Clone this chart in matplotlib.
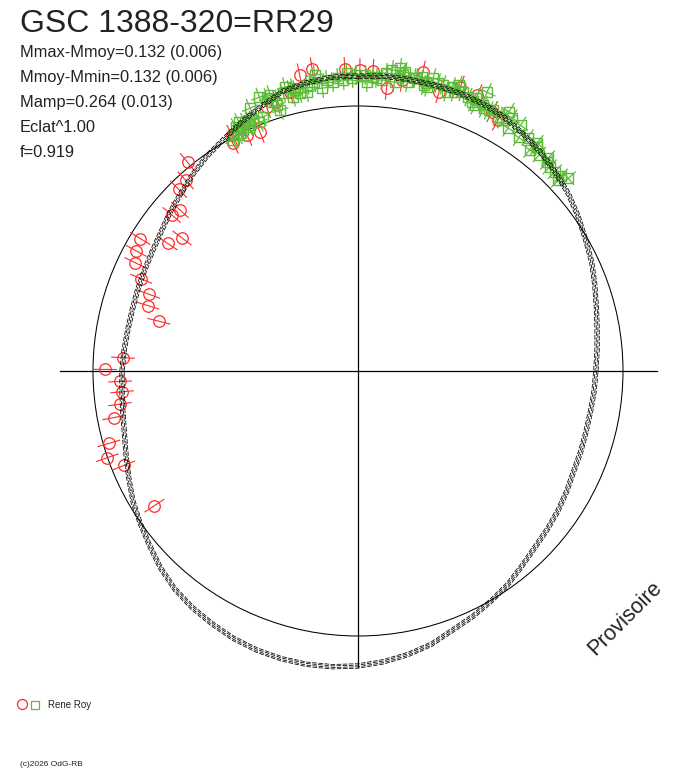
"""Polar light curve of GSC 1388-320 = RR29 (GEOS style)."""

import numpy as np
import matplotlib

matplotlib.use("Agg")
import matplotlib.pyplot as plt
from matplotlib.patches import Circle

TITLE = "GSC 1388-320=RR29"
STATS = [
    "Mmax-Mmoy=0.132 (0.006)",
    "Mmoy-Mmin=0.132 (0.006)",
    "Mamp=0.264 (0.013)",
    "Eclat^1.00",
    "f=0.919",
]
OBSERVER = "Rene Roy"
COPYRIGHT = "(c)2026 OdG-RB"
STAMP = "Provisoire"

# fitted light curve, one value every 5 degrees of phase (mag above mean)
CURVE_DMAG = [
    0.128, 0.132, 0.132, 0.132, 0.132, 0.128, 0.119, 0.102, 0.085, 0.064,
    0.043, 0.017, -0.009, -0.030, -0.055, -0.077, -0.094, -0.106, -0.115, -0.119,
    -0.123, -0.123, -0.119, -0.115, -0.102, -0.089, -0.077, -0.064, -0.043, -0.017,
    0.004, 0.026, 0.047, 0.077, 0.098, 0.115, 0.128, 0.136, 0.140, 0.140,
    0.136, 0.128, 0.115, 0.102, 0.085, 0.060, 0.030, 0.004, -0.021, -0.051,
    -0.077, -0.098, -0.111, -0.119, -0.123, -0.128, -0.132, -0.132, -0.128, -0.123,
    -0.115, -0.102, -0.081, -0.060, -0.034, -0.009, 0.013, 0.043, 0.072, 0.106,
    0.119, 0.128,
]
CURVE_PHASE = np.arange(len(CURVE_DMAG)) / len(CURVE_DMAG)
CURVE_SPREAD = [-0.010, -0.004, 0.003, 0.009]

# observations, set 1 (red circles)
RED_PHASE = [
    0.969, 0.976, 0.993, 0.001, 0.008, 0.016, 0.024, 0.962, 0.947, 0.953,
    0.938, 0.922, 0.930, 0.034, 0.045, 0.055, 0.065, 0.076, 0.081, 0.891,
    0.883, 0.876, 0.867, 0.861, 0.837, 0.829, 0.822, 0.844, 0.853, 0.814,
    0.806, 0.798, 0.789, 0.759, 0.751, 0.743, 0.736, 0.728, 0.720, 0.705,
    0.697, 0.689, 0.657, 0.920,
]
RED_DMAG = [
    0.156, 0.172, 0.159, 0.153, 0.151, 0.083, 0.125, 0.094, 0.062, 0.068,
    -0.027, 0.009, -0.018, 0.174, 0.110, 0.157, 0.151, 0.115, 0.095, 0.018,
    -0.034, -0.041, -0.106, -0.094, -0.043, -0.054, -0.073, -0.153, -0.189, -0.125,
    -0.180, -0.192, -0.254, -0.126, -0.051, -0.114, -0.120, -0.105, -0.071, -0.023,
    0.001, -0.054, -0.089, -0.021,
]
RED_ERR = 0.048

# observations, set 2 (green squares)
GREEN_PHASE = [
    0.925, 0.929, 0.933, 0.935, 0.933, 0.940, 0.937, 0.938, 0.945, 0.949,
    0.951, 0.953, 0.954, 0.958, 0.960, 0.963, 0.965, 0.967, 0.972, 0.971,
    0.932, 0.943, 0.964, 0.977, 0.980, 0.983, 0.986, 0.989, 0.994, 0.997,
    0.999, 0.004, 0.005, 0.008, 0.010, 0.013, 0.015, 0.018, 0.020, 0.024,
    0.027, 0.030, 0.034, 0.037, 0.038, 0.022, 0.025, 0.031, 0.036, 0.040,
    0.043, 0.046, 0.049, 0.051, 0.053, 0.054, 0.057, 0.061, 0.064, 0.065,
    0.070, 0.069, 0.074, 0.066, 0.071, 0.076, 0.080, 0.083, 0.087, 0.088,
    0.093, 0.096, 0.100, 0.105, 0.107, 0.111, 0.117, 0.120, 0.124, 0.128,
    0.132, 0.129, 0.116, 0.106, 0.929, 0.927, 0.921, 0.926, 0.951, 0.976,
    0.992, 0.084,
]
GREEN_DMAG = [
    -0.001, 0.011, 0.021, 0.035, 0.011, 0.011, 0.030, 0.082, 0.111, 0.097,
    0.074, 0.056, 0.031, 0.099, 0.120, 0.072, 0.098, 0.081, 0.109, 0.079,
    0.036, 0.028, 0.108, 0.145, 0.086, 0.118, 0.107, 0.122, 0.141, 0.120,
    0.132, 0.132, 0.103, 0.125, 0.122, 0.115, 0.146, 0.162, 0.112, 0.146,
    0.120, 0.141, 0.153, 0.133, 0.117, 0.174, 0.160, 0.143, 0.120, 0.159,
    0.144, 0.142, 0.119, 0.146, 0.129, 0.162, 0.141, 0.129, 0.116, 0.140,
    0.123, 0.180, 0.113, 0.109, 0.111, 0.121, 0.106, 0.106, 0.133, 0.088,
    0.126, 0.079, 0.100, 0.064, 0.092, 0.074, 0.071, 0.064, 0.064, 0.070,
    0.086, 0.049, 0.087, 0.106, 0.045, 0.003, -0.008, 0.033, 0.105, 0.116,
    0.112, 0.150,
]
GREEN_ERR = 0.040
GREEN_PHASE_ERR = 0.0045

RED = "#ff2a2a"
GREEN = "#5cbc38"

W, H = 688, 768
CX, CY = 358, 371          # centre of the polar plot, pixels from top-left
R0 = 265.0                 # radius of the mean-magnitude circle, px
K = 235.0                  # px per magnitude
AXIS_HALF = 297


def to_xy(phase, dmag):
    phase = np.asarray(phase, dtype=float)
    r = R0 + K * np.asarray(dmag, dtype=float)
    th = 2 * np.pi * phase
    return r * np.sin(th), r * np.cos(th)


def fx(px):
    return px / W


def fy(py):
    return 1 - py / H


def main() -> None:
    plt.rcParams["font.family"] = ["Liberation Sans", "DejaVu Sans"]
    fig = plt.figure(figsize=(W / 100, H / 100), dpi=100)
    ax = fig.add_axes([0, 0, 1, 1])
    ax.set_xlim(-CX, W - CX)
    ax.set_ylim(-(H - CY), CY)
    ax.set_aspect("equal")
    ax.axis("off")

    # axes cross and mean circle
    ax.plot([-AXIS_HALF - 1, AXIS_HALF + 2], [0, 0], color="black", lw=0.9, zorder=1)
    ax.plot([0, 0], [-AXIS_HALF + 1, AXIS_HALF - 1], color="black", lw=0.9, zorder=1)
    ax.add_patch(Circle((0, 0), R0, fill=False, color="black", lw=0.75, zorder=1))

    # red observations with radial error bars
    rp = np.array(RED_PHASE)
    rm = np.array(RED_DMAG)
    for p, m in zip(rp, rm):
        x, y = to_xy([p, p], [m - RED_ERR, m + RED_ERR])
        ax.plot(x, y, color=RED, lw=0.8, zorder=2)
    x, y = to_xy(rp, rm)
    ax.plot(x, y, ls="none", marker="o", ms=8.3, mfc="none", mec=RED, mew=0.9, zorder=2)

    # green observations with radial and phase error bars
    gp = np.array(GREEN_PHASE)
    gm = np.array(GREEN_DMAG)
    for p, m in zip(gp, gm):
        x, y = to_xy([p, p], [m - GREEN_ERR, m + GREEN_ERR])
        ax.plot(x, y, color=GREEN, lw=0.9, zorder=3)
        x, y = to_xy([p - GREEN_PHASE_ERR, p + GREEN_PHASE_ERR], [m, m])
        ax.plot(x, y, color=GREEN, lw=0.9, zorder=3)
    x, y = to_xy(gp, gm)
    ax.plot(x, y, ls="none", marker="s", ms=7.3, mfc="none", mec=GREEN, mew=1.0, zorder=4)

    # fitted curve with its uncertainty envelope
    cp = np.append(CURVE_PHASE, 1.0)
    cm = np.append(CURVE_DMAG, CURVE_DMAG[0])
    for i, off in enumerate(CURVE_SPREAD):
        x, y = to_xy(cp, cm + off)
        ax.plot(x, y, color="black", lw=0.55, ls=(i * 2.0, (6, 2)), zorder=5)

    # texts
    title = fig.text(fx(20), fy(32), TITLE, fontsize=23, color="#222222",
                     va="baseline", ha="left")
    title.set_fontstretch("expanded")
    for i, line in enumerate(STATS):
        fig.text(fx(20), fy(57 + 25 * i), line, fontsize=11.8, color="#222222",
                 va="baseline", ha="left")
    fig.text(fx(625), fy(618), STAMP, fontsize=15.5, rotation=45, color="#222222",
             ha="center", va="center", rotation_mode="anchor")

    # observer legend
    ax.plot([22 - CX], [CY - 704], marker="o", ms=7.2, mfc="none", mec=RED, mew=0.9, ls="none")
    ax.plot([35 - CX], [CY - 705], marker="s", ms=5.2, mfc="none", mec=GREEN, mew=0.9, ls="none")
    fig.text(fx(48), fy(708), OBSERVER, fontsize=7, color="#222222", va="baseline",
             ha="left")
    fig.text(fx(20), fy(766), COPYRIGHT, fontsize=6, color="#222222", va="baseline",
             ha="left")

    fig.savefig("out.png", dpi=100)
    plt.close(fig)


if __name__ == "__main__":
    main()
